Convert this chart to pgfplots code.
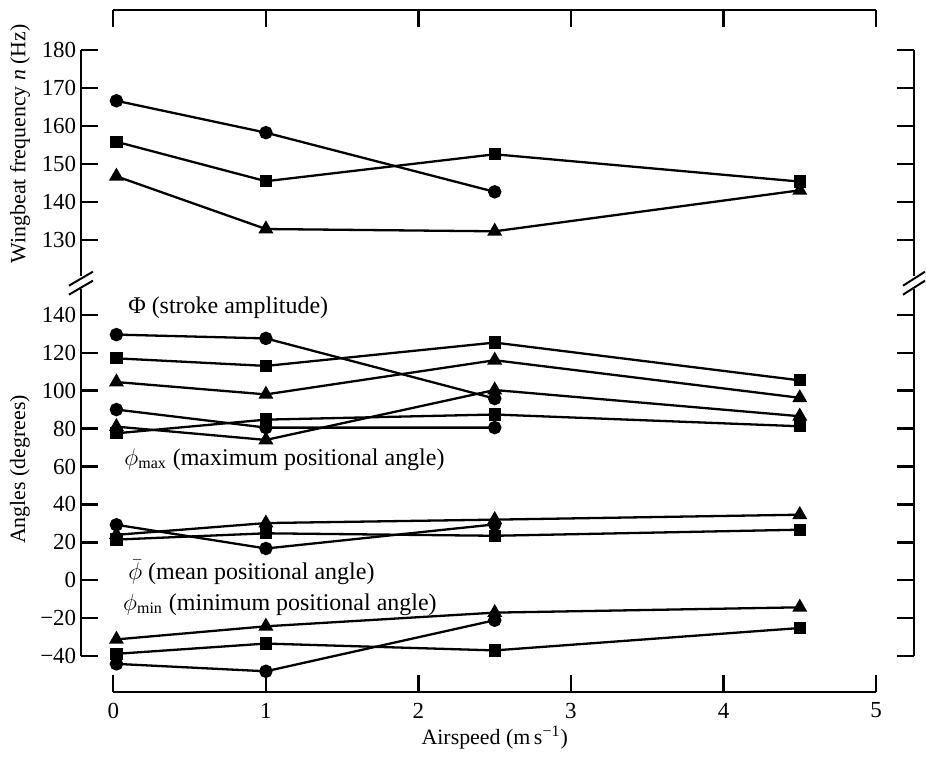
\documentclass[border=0pt,11pt]{standalone}
\usepackage{fontspec}
\setmainfont{Liberation Serif}
\usepackage{pgfplots}
\pgfplotsset{compat=1.18}
\begin{document}
\begin{tikzpicture}
\pgfplotsset{
  every axis/.append style={
    scale only axis, anchor=south west,
    tick align=inside, major tick length=8.5pt,
    axis line style={line width=1.1pt},
    every tick/.style={line width=1.1pt, black},
    tick label style={font=\fontsize{11.5}{13}\selectfont},
    label style={font=\fontsize{11.6}{13.5}\selectfont},
  },
  ser/.style={black, line width=1.15pt, mark options={solid}},
  circ/.style={ser, mark=*, mark size=2.8pt},
  sq/.style={ser, mark=square*, mark size=2.5pt},
  tri/.style={ser, mark=triangle*, mark size=3.2pt},
}
\path (0,0) rectangle (463pt,375pt);
% x frame (top and bottom axis lines)
\begin{axis}[
  at={(56.75pt,28.5pt)}, width=381.75pt, height=341.5pt,
  xmin=0, xmax=5, ymin=0, ymax=1,
  axis x line=box, axis y line=none,
  xtick={0,1,2,3,4,5}, xticklabels={0,1,2,3,4,5},
  xticklabel style={yshift=-1.5pt},
  ytick=\empty,
  xlabel={Airspeed (m\,s\textsuperscript{−1})},
  xlabel style={yshift=3.5pt},
]
\end{axis}
% upper axis: wingbeat frequency
\begin{axis}[
  at={(40.5pt,237pt)}, width=417pt, height=113pt,
  xmin=-0.2128, xmax=5.249, ymin=120.5, ymax=180,
  axis y line=box, axis x line=none,
  xtick=\empty,
  ytick={130,140,150,160,170,180},
  yticklabels={130,140,150,160,170,180},
  yticklabel pos=left,
  yticklabel style={xshift=1.5pt},
  ylabel={Wingbeat frequency \textit{n} (Hz)},
  ylabel style={at={(axis description cs:-0.0731,0.584)}, anchor=center},
  clip=false,
]
\addplot[circ] coordinates {(0.02,166.6) (1,158.2) (2.5,142.6)};
\addplot[sq] coordinates {(0.02,155.8) (1,145.4) (2.5,152.5) (4.5,145.3)};
\addplot[tri] coordinates {(0.02,146.7) (1,132.8) (2.5,132.2) (4.5,143)};
\end{axis}
% lower axis: angles
\begin{axis}[
  at={(40.5pt,46.5pt)}, width=417pt, height=184pt,
  xmin=-0.2128, xmax=5.249, ymin=-40, ymax=153.7,
  axis y line=box, axis x line=none,
  xtick=\empty,
  ytick={-40,-20,0,20,40,60,80,100,120,140},
  yticklabels={−40,−20,0,20,40,60,80,100,120,140},
  yticklabel pos=left,
  yticklabel style={xshift=1.5pt},
  ylabel={Angles (degrees)},
  ylabel style={at={(axis description cs:-0.0731,0.508)}, anchor=center},
  clip=false,
]
\addplot[circ] coordinates {(0.02,129.5) (1,127.5) (2.5,95.8)};
\addplot[sq] coordinates {(0.02,117) (1,113) (2.5,125.3) (4.5,105.4)};
\addplot[tri] coordinates {(0.02,104.5) (1,98) (2.5,116) (4.5,96.2)};
\addplot[circ] coordinates {(0.02,90) (1,80.5) (2.5,80.5)};
\addplot[tri] coordinates {(0.02,81) (1,74) (2.5,100.3) (4.5,86.5)};
\addplot[sq] coordinates {(0.02,77.5) (1,84.7) (2.5,87.4) (4.5,81.2)};
\addplot[circ] coordinates {(0.02,29.3) (1,16.8) (2.5,29.5)};
\addplot[tri] coordinates {(0.02,24) (1,30.2) (2.5,32) (4.5,34.6)};
\addplot[sq] coordinates {(0.02,21.5) (1,24.8) (2.5,23.5) (4.5,26.7)};
\addplot[tri] coordinates {(0.02,-31.1) (1,-24.2) (2.5,-17) (4.5,-14.2)};
\addplot[sq] coordinates {(0.02,-38.7) (1,-33.3) (2.5,-36.9) (4.5,-25.1)};
\addplot[circ] coordinates {(0.02,-44) (1,-47.9) (2.5,-21)};
\begin{scope}[font=\fontsize{12}{14}\selectfont]
\node[anchor=west, inner sep=0pt] at (axis cs:0.095,143.7) {Φ (stroke amplitude)};
\node[anchor=west, inner sep=0pt] at (axis cs:0.07,63.7) {$\phi_{\mathrm{max}}$ (maximum positional angle)};
\node[anchor=west, inner sep=0pt] at (axis cs:0.095,4.2) {$\bar{\phi}$ (mean positional angle)};
\node[anchor=west, inner sep=0pt] at (axis cs:0.062,-12.6) {$\phi_{\mathrm{min}}$ (minimum positional angle)};
\end{scope}
\end{axis}
% axis break marks
\foreach \yy in {235.5pt,231pt} {
  \draw[line width=1pt] ([shift={(-6pt,-3.5pt)}]40.5pt,\yy) -- ([shift={(6pt,3.5pt)}]40.5pt,\yy);
  \draw[line width=1pt] ([shift={(-5.5pt,-3.5pt)}]457.5pt,\yy) -- ([shift={(5.5pt,3.5pt)}]457.5pt,\yy);
}
\end{tikzpicture}
\end{document}
